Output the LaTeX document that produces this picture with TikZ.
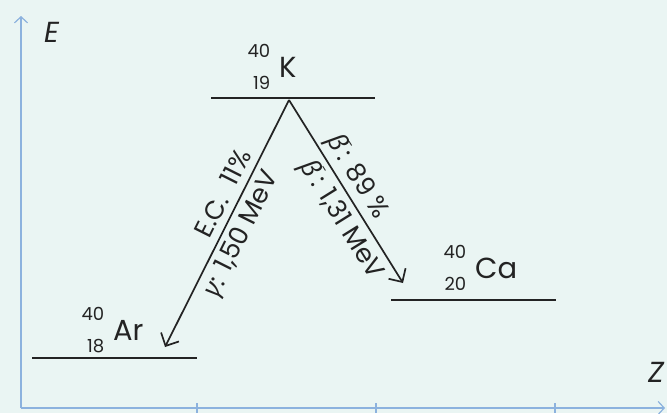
\documentclass[tikz,border=0pt]{standalone}
\usepackage{fontspec}
\setmainfont{Poppins}
\newfontfamily\grk{Noto Sans}
\usetikzlibrary{arrows.meta}
\definecolor{bg}{RGB}{234,245,243}
\definecolor{axiscol}{RGB}{140,178,222}
\definecolor{ink}{RGB}{35,35,35}
\newcommand\nuc[3]{\mbox{\llap{\fontsize{18}{18}\selectfont\llap{\raisebox{20pt}{#1}}\llap{\raisebox{-12pt}{#2}}\hspace{9pt}}#3}}
\newcommand\gbeta{{\grk\itshape β}\kern-3pt\raisebox{0.55em}{\fontsize{13}{13}\selectfont -}\kern1pt}
\newcommand\ggamma{{\grk\itshape γ}}
\begin{document}
\begin{tikzpicture}[x=1pt,y=-1pt,
  axisline/.style={draw=axiscol, line width=1.2pt},
  axisarrow/.style={axisline, -{Straight Barb[length=6pt,width=13pt,line width=1.2pt]}},
  level/.style={draw=ink, line width=2pt},
  decay/.style={draw=ink, line width=1.7pt, -{Straight Barb[length=10pt,width=20pt,line width=1.7pt]}},
  lbl/.style={inner sep=0pt, text=ink, font=\fontsize{26}{27}\selectfont},
  nucl/.style={inner sep=0pt, text=ink, anchor=base west, font=\fontsize{29}{30}\selectfont},
  axlbl/.style={inner sep=0pt, text=ink, anchor=base west, font=\fontsize{29}{30}\selectfont\itshape}]
\useasboundingbox[fill=bg] (0,0) rectangle (667,413);
% axes
\coordinate (O) at (21,408);
\coordinate (Ytop) at (21,16);
\coordinate (Xend) at (665,408);
\draw[axisarrow] (O) -- (Ytop);
\draw[axisarrow] (O) -- (Xend);
\foreach \x in {197,376,555} \draw[axisline] (\x,403) -- (\x,413);
\node[axlbl] (E) at (44,42) {E};
\node[axlbl] (Z) at (648,382) {Z};
% levels
\coordinate (K1) at (211,98); \coordinate (K2) at (375,98);
\coordinate (Ar1) at (32,358); \coordinate (Ar2) at (197,358);
\coordinate (Ca1) at (391,300); \coordinate (Ca2) at (556,300);
\draw[level] (K1) -- (K2);
\draw[level] (Ar1) -- (Ar2);
\draw[level] (Ca1) -- (Ca2);
\node[nucl] (K) at (279,77) {\nuc{40}{19}{K}};
\node[nucl] (Ar) at (113,340) {\nuc{40}{18}{Ar}};
\node[nucl] (Ca) at (475,278) {\nuc{40}{20}{Ca}};
% decays
\coordinate (apex) at (289,100);
\coordinate (ArTip) at (165,347);
\coordinate (CaTip) at (403,283);
\draw[decay] (apex) -- node[lbl, sloped, pos=.41, above=7pt] {E.C.\ \ 11\%}
                      node[lbl, sloped, pos=.51, below=5pt] {\ggamma: 1,50 MeV} (ArTip);
\draw[decay] (apex) -- node[lbl, sloped, pos=.47, above=3pt] {\gbeta: 89 \%}
                      node[lbl, sloped, pos=.60, below=5pt] {\gbeta: 1,31 MeV} (CaTip);
\end{tikzpicture}
\end{document}
